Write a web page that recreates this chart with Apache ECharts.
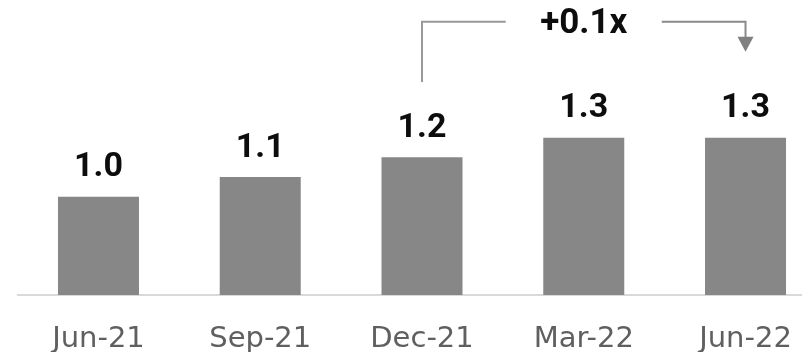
<!DOCTYPE html>
<html>
<head>
<meta charset="utf-8">
<script src="https://cdn.jsdelivr.net/npm/echarts@6/dist/echarts.min.js"></script>
<style>
  html, body { margin: 0; padding: 0; background: #fff; }
  #chart { width: 802px; height: 352px; }
</style>
</head>
<body>
<div id="chart"></div>
<script>
// quarters and leverage multiple
const categories = ['Jun-21', 'Sep-21', 'Dec-21', 'Mar-22', 'Jun-22']
const values = [1.0, 1.1, 1.2, 1.3, 1.3]
// change annotation: from Dec-21 to Jun-22
const changeFrom = 'Dec-21'
const changeTo = 'Jun-22'
const changeLabel = '+0.1x'

const chart = echarts.init(document.getElementById('chart'))

chart.setOption({
  animation: false,
  // plot runs past the right edge, last bar sits near it
  grid: { left: 17.6, right: -24.4, top: 0, bottom: 57, outerBoundsMode: 'none' },
  xAxis: {
    type: 'category',
    data: categories,
    axisLine: { lineStyle: { color: '#d9d9d9', width: 2 } },
    axisTick: { show: false },
    axisLabel: {
      color: '#5f5f5f',
      fontFamily: 'DejaVu Sans',
      fontSize: 29,
      margin: 30
    }
  },
  yAxis: {
    type: 'value',
    show: false,
    min: 0.5,
    max: 2.0,
    splitLine: { show: false }
  },
  series: [
    {
      type: 'bar',
      data: values,
      barWidth: 81,
      itemStyle: { color: '#878787' },
      label: {
        show: true,
        position: 'top',
        distance: 12,
        color: '#0d0d0d',
        fontFamily: 'Roboto',
        fontWeight: 'bold',
        fontSize: 34,
        formatter: p => p.value.toFixed(1)
      }
    }
  ]
})

// bracket + arrow annotation, anchored on the category centres
const x1 = chart.convertToPixel({ xAxisIndex: 0 }, changeFrom)
const x2 = chart.convertToPixel({ xAxisIndex: 0 }, changeTo)
const mid = (x1 + x2) / 2
const lineY = 21.7
const gap = 78

chart.setOption({
  graphic: [
    {
      type: 'polyline',
      shape: { points: [[x1, 82], [x1, lineY], [mid - gap, lineY]] },
      style: { stroke: '#999999', lineWidth: 2, fill: null }
    },
    {
      type: 'polyline',
      shape: { points: [[mid + gap, lineY], [x2, lineY], [x2, 38]] },
      style: { stroke: '#8a8a8a', lineWidth: 2, fill: null }
    },
    {
      type: 'polygon',
      shape: { points: [[x2 - 8, 36.7], [x2 + 8, 36.7], [x2, 51.7]] },
      style: { fill: '#808080' }
    },
    {
      type: 'text',
      x: mid,
      y: 24,
      style: {
        text: changeLabel,
        fill: '#0d0d0d',
        font: 'bold 35px Roboto',
        align: 'center',
        verticalAlign: 'middle'
      }
    }
  ]
})
</script>
</body>
</html>
